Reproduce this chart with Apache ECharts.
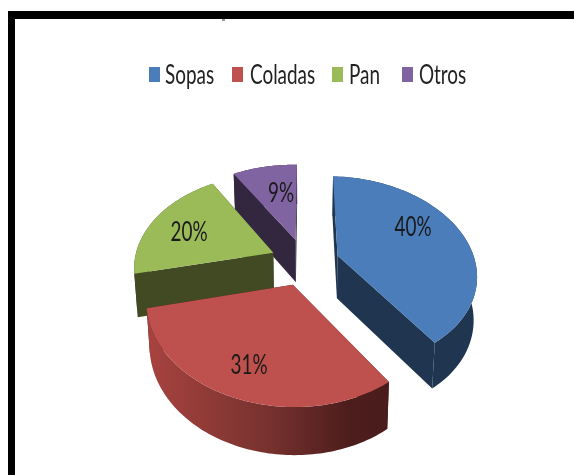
<!DOCTYPE html>
<html>
<head>
<meta charset="utf-8">
<script src="https://cdn.jsdelivr.net/npm/echarts@6/dist/echarts.min.js"></script>
<style>html,body{margin:0;padding:0;background:#fff}#c{width:574px;height:475px}</style>
</head>
<body>
<div id="c"></div>
<script>
// Food categories and their share of the total, in percent.
const categories = ['Sopas', 'Coladas', 'Pan', 'Otros'];
const shares = [40, 31, 20, 9];

// Colours per category: top face, side wall.
const topColors = ['#4B7DBA', '#BE504D', '#9BBB59', '#8064A2'];
const wallColors = ['#1F3550', null, '#414A23', '#33263F'];
const FONT = 'Lato, "Open Sans", sans-serif';
const TEXT_SQUEEZE = 0.7;

// Perspective model of the tilted pie.
const view = { cx: 305, cy: 262, rx: 138.5, ry: 94, persp: 0.1626, roll: 0.02, explode: 0.25, depth: 43, taper: 0.98 };
const labelAt = [[413, 227], [249, 365], [189, 232], [281, 193]];
const paintOrder = [3, 2, 0, 1];

// Legend layout: swatch left edge and text left edge per entry.
const legendSwatchX = [149, 232, 332, 402];
const legendTextX = [165, 250, 349, 419];
const legendY = 75;

const total = shares.reduce((a, b) => a + b, 0);
const starts = shares.map((_, i) => shares.slice(0, i).reduce((a, b) => a + b, 0) / total * 360);

function dir(deg) {
  const t = deg * Math.PI / 180;
  return [Math.sin(t), -Math.cos(t)];
}
function project(a, b) {
  const d = 1 - view.persp * b;
  const dx = view.rx * a / d;
  return [view.cx + dx, view.cy + view.ry * b / d + view.roll * dx];
}
function drop(a, b) {
  const d = 1 - view.persp * b;
  const p = project(a, b);
  return [view.cx + (p[0] - view.cx) * view.taper, p[1] + view.depth / Math.sqrt(d)];
}

// Red rim fades left to right; the other rims are flat.
const redRim = new echarts.graphic.LinearGradient(146, 0, 386, 0, [
  { offset: 0, color: '#A8433F' },
  { offset: 0.5, color: '#78322F' },
  { offset: 0.85, color: '#4C1D1C' },
  { offset: 1, color: '#4A1C1C' }
], true);

function sliceRenderer(i) {
  return function (params, api) {
    const value = api.value(0);
    const a0 = starts[i];
    const a1 = a0 + value / total * 360;
    const mid = dir((a0 + a1) / 2);
    const ox = mid[0] * view.explode, oy = mid[1] * view.explode;
    const rim = [];
    for (let k = 0; k <= 90; k++) {
      const d = dir(a0 + (a1 - a0) * k / 90);
      rim.push([d[0] + ox, d[1] + oy]);
    }
    const topRim = rim.map(p => project(p[0], p[1]));
    const lowRim = rim.map(p => drop(p[0], p[1]));
    const apexTop = project(ox, oy);
    const apexLow = drop(ox, oy);
    const wallFill = wallColors[i] || '#4A1C1C';
    const rimFill = wallColors[i] || redRim;
    const n = topRim.length - 1;
    return {
      type: 'group',
      children: [
        { type: 'polygon', shape: { points: [apexTop, topRim[0], lowRim[0], apexLow] }, style: { fill: wallFill } },
        { type: 'polygon', shape: { points: [apexTop, topRim[n], lowRim[n], apexLow] }, style: { fill: wallFill } },
        { type: 'polygon', shape: { points: topRim.concat(lowRim.slice().reverse()) }, style: { fill: rimFill } },
        { type: 'polygon', shape: { points: [apexTop].concat(topRim) }, style: { fill: topColors[i] } },
        {
          type: 'text',
          x: labelAt[i][0], y: labelAt[i][1], scaleX: TEXT_SQUEEZE,
          style: {
            text: value + '%', font: '27px ' + FONT, fill: '#1a1a1a',
            align: 'center', verticalAlign: 'middle'
          }
        }
      ]
    };
  };
}

// Legend entries, drawn as swatch plus horizontally condensed text.
const legendMarks = categories.flatMap((name, i) => [
  {
    type: 'rect',
    shape: { x: legendSwatchX[i], y: legendY - 8, width: 11, height: 15 },
    style: { fill: topColors[i] }
  },
  {
    type: 'text',
    x: legendTextX[i], y: legendY, scaleX: TEXT_SQUEEZE,
    style: { text: name, font: '27px ' + FONT, fill: '#222', align: 'left', verticalAlign: 'middle' }
  }
]);

const chart = echarts.init(document.getElementById('c'), null, { renderer: 'canvas' });
chart.setOption({
  animation: false,
  backgroundColor: '#fff',
  graphic: [
    { type: 'rect', shape: { x: 8, y: 11, width: 566, height: 8 }, style: { fill: '#000' } },
    { type: 'rect', shape: { x: 8, y: 11, width: 7, height: 464 }, style: { fill: '#000' } },
    { type: 'rect', shape: { x: 222, y: 19, width: 3, height: 2 }, style: { fill: '#999' } }
  ].concat(legendMarks),
  series: paintOrder.map((i, order) => ({
    type: 'custom',
    name: categories[i],
    coordinateSystem: 'none',
    z: 2 + order,
    itemStyle: { color: topColors[i] },
    data: [shares[i]],
    renderItem: sliceRenderer(i)
  }))
});
</script>
</body>
</html>
